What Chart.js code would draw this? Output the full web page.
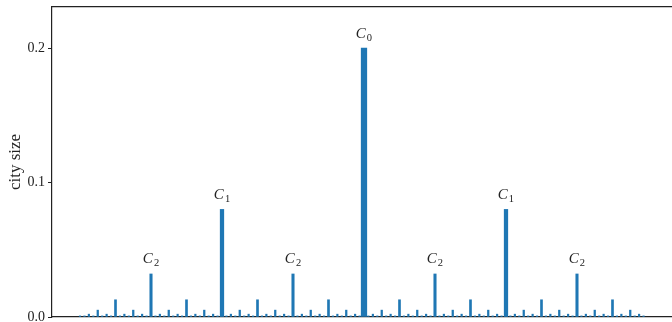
<!DOCTYPE html>
<html>
<head>
<meta charset="utf-8">
<script src="https://cdn.jsdelivr.net/npm/chart.js@4.4.1/dist/chart.umd.min.js"></script>
<style>
  html, body { margin: 0; padding: 0; background: #fff; overflow: hidden; }
</style>
</head>
<body>
<canvas id="city-chart" width="672" height="322"></canvas>
<script>
// size of a city at each level of the hierarchy (C0 is the biggest)
const levelSize = [0.2, 0.08, 0.032, 0.0128, 0.0051, 0.0021, 0.0008];
const levelName = ['0', '1', '2'];

// level of every city along the line, left to right
const cityLevel = [
  6, 6,5,6,4,6,5,6,3,6,5,6,4,6,5,6, 2,
  6,5,6,4,6,5,6,3,6,5,6,4,6,5,6, 1,
  6,5,6,4,6,5,6,3,6,5,6,4,6,5,6, 2,
  6,5,6,4,6,5,6,3,6,5,6,4,6,5,6, 0,
  6,5,6,4,6,5,6,3,6,5,6,4,6,5,6, 2,
  6,5,6,4,6,5,6,3,6,5,6,4,6,5,6, 1,
  6,5,6,4,6,5,6,3,6,5,6,4,6,5,6, 2,
  6,5,6,4,6,5,6,3,6,5,6,4,6,5,6
];

const barWidth = [5.6, 3.6, 2.4, 2.0, 1.6, 1.5, 1.5];
const blue = '#1f77b4';
const ink = '#222';
const serif = "'Liberation Serif', 'DejaVu Serif', serif";

let datasets = [];
levelSize.forEach((size, lv) => {
  let pts = [];
  cityLevel.forEach((l, i) => {
    if (l === lv) pts.push({ x: i, y: size });
  });
  datasets.push({
    label: 'level ' + lv,
    data: pts,
    backgroundColor: blue,
    borderWidth: 0,
    barThickness: barWidth[lv],
    grouped: false
  });
});

const peakLabels = {
  id: 'peakLabels',
  afterDatasetsDraw(chart) {
    const { ctx, scales: { x, y } } = chart;
    ctx.save();
    ctx.fillStyle = ink;
    ctx.textBaseline = 'alphabetic';
    cityLevel.forEach((lv, i) => {
      if (lv >= levelName.length) return;
      const px = x.getPixelForValue(i);
      const py = y.getPixelForValue(levelSize[lv]) - 10.5;
      ctx.font = 'italic 15px ' + serif;
      const wC = ctx.measureText('C').width;
      ctx.font = '10.5px ' + serif;
      const wS = ctx.measureText(levelName[lv]).width;
      const left = px - (wC + wS + 1) / 2;
      ctx.textAlign = 'left';
      ctx.font = 'italic 15px ' + serif;
      ctx.fillText('C', left, py);
      ctx.font = '10.5px ' + serif;
      ctx.fillText(levelName[lv], left + wC + 1, py + 3);
    });
    ctx.restore();
  }
};

new Chart(document.getElementById('city-chart'), {
  type: 'bar',
  data: { datasets },
  plugins: [peakLabels],
  options: {
    responsive: false,
    animation: false,
    devicePixelRatio: 1,
    layout: { padding: { top: 7, bottom: 5, left: 0, right: 0 } },
    plugins: { legend: { display: false }, tooltip: { enabled: false } },
    scales: {
      x: {
        type: 'linear',
        offset: false,
        min: -6.31,
        max: 133.41,
        afterFit: s => { s.height = 0; },
        ticks: { display: false },
        grid: { display: false },
        border: { display: true, color: ink, width: 1.2 }
      },
      xTop: {
        type: 'linear',
        position: 'top',
        offset: false,
        min: -6.31,
        max: 133.41,
        afterFit: s => { s.height = 0; },
        ticks: { display: false },
        grid: { display: false },
        border: { display: true, color: ink, width: 1.2 }
      },
      y: {
        min: 0,
        max: 0.2305,
        afterFit: s => { s.width = 52; s.paddingTop = 0; s.paddingBottom = 0; },
        ticks: {
          stepSize: 0.1,
          includeBounds: false,
          padding: 3,
          color: ink,
          font: { family: serif, size: 14 },
          callback: v => v.toFixed(1)
        },
        grid: { drawOnChartArea: false, tickLength: 4, color: ink, tickWidth: 1 },
        border: { color: ink, width: 1.2 },
        title: {
          display: true,
          text: 'city size',
          color: ink,
          font: { family: serif, size: 17 },
          padding: { top: 5, bottom: 0 }
        }
      }
    }
  }
});
</script>
</body>
</html>
